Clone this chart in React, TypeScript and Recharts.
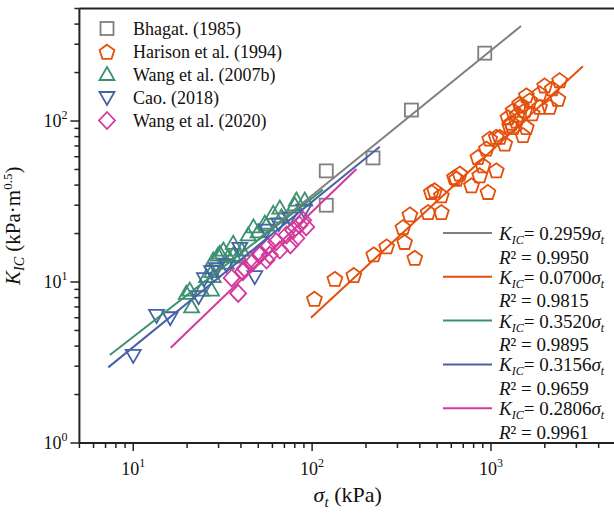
import { ScatterChart, Scatter, XAxis, YAxis, ReferenceLine, Label } from 'recharts'

const FONT = 'Liberation Serif, Times New Roman, serif'
const AXIS = '#222'

// tick values (log axes)
const xTicks = [5, 6, 7, 8, 9, 10, 20, 30, 40, 50, 60, 70, 80, 90, 100, 200, 300, 400, 500, 600, 700, 800, 900, 1000, 2000, 3000, 4000, 5000]
const xMajor = [10, 100, 1000]
const yTicks = [1, 2, 3, 4, 5, 6, 7, 8, 9, 10, 20, 30, 40, 50, 60, 70, 80, 90, 100, 200, 300, 400, 500]
const yMajor = [1, 10, 100]

// measured data, [sigma_t (kPa), K_IC (kPa·m^0.5)]
const bhagat = [[120, 30], [120, 49], [219, 59], [359, 117], [923, 264]]

const harison = [
  [103, 7.9], [134, 10.5], [171, 11.1], [221, 14.9], [261, 16.7], [322, 22], [352, 26.4], [329, 17.8],
  [375, 14.2], [445, 27.3], [528, 27.3], [484, 37.3], [528, 34.7], [464, 36.4], [625, 45], [641, 44],
  [669, 47.3], [778, 40], [865, 46.2], [962, 36.4], [1071, 49.6], [845, 60], [942, 67.7], [902, 53.3],
  [1071, 80], [1194, 72.7], [1272, 94.4], [984, 78], [1120, 80], [1387, 101], [1328, 117], [1447, 129],
  [1577, 145], [1545, 117], [1645, 135], [1871, 149], [1996, 167], [2128, 123], [2368, 138], [2420, 180],
  [1577, 92], [1328, 92], [1510, 82], [1245, 106], [1871, 123], [1400, 110], [1700, 112], [2200, 160],
  [1300, 98], [1480, 125],
]

const wang2007 = [
  [19.8, 8.5], [21.2, 7.0], [20.7, 8.9], [24.1, 8.9], [25.7, 10.8], [27.4, 8.9], [28, 10.8], [27.5, 11.6],
  [28, 13.7], [29.8, 14.7], [30.5, 15.1], [31.9, 15.8], [33.2, 13.1], [34, 14.4], [36.2, 17.4], [36.2, 14.7],
  [39.4, 14.3], [40.4, 15.8], [43.9, 19.6], [47, 22], [49.9, 20.5], [54.4, 23.2], [55.6, 22.6], [60.6, 26.7],
  [66, 28.8], [67.4, 25.4], [80, 30.1], [81.6, 32.3], [91, 32.3],
]

const cao = [
  [10, 3.5], [13.5, 6.2], [16.1, 6.0], [23.2, 8.1], [25, 10.5], [27.4, 11.6], [29.2, 12.1], [33.2, 12.8],
  [39.4, 16.2], [47.8, 10.8], [55.6, 21], [65, 23], [75, 25], [90, 28],
]

const wang2020 = [
  [38.6, 8.5], [35.5, 10.6], [41, 11.6], [42, 12.1], [44.9, 13.7], [45.9, 13.1], [51, 14.7], [51, 15.1],
  [55.6, 13.7], [56.7, 16.6], [58, 14.7], [63, 17.8], [66, 15.8], [72, 19.6], [75.6, 17], [78.3, 21],
  [81.6, 18.7], [85, 22.6], [89, 24.2], [92.7, 22],
]

// fitted lines, start and end points as drawn
const fitBhagat = [[50, 18.5], [1473, 389]]
const fitHarison = [[98.5, 6.0], [3266, 219]]
const fitWang2007 = [[7.4, 3.52], [115, 37.5]]
const fitCao = [[7.25, 2.95], [239, 69.3]]
const fitWang2020 = [[16.2, 3.91], [177, 50.3]]

const coefs = ['0.2959', '0.0700', '0.3520', '0.3156', '0.2806']
const r2s = ['0.9950', '0.9815', '0.9895', '0.9659', '0.9961']

const colors = {
  gray: '#7f7f7f',
  orange: '#e4500c',
  green: '#3d9070',
  blue: '#4862a8',
  magenta: '#d4389c',
}

const toPts = (arr: number[][]) => arr.map(([x, y]) => ({ x, y }))

// marker shapes
const Marker = ({ kind, cx, cy, color }: { kind: string; cx: number; cy: number; color: string }) => {
  const sw = 1.8
  if (kind === 'square') {
    return <rect x={cx - 6.5} y={cy - 6.5} width={13} height={13} fill="none" stroke={color} strokeWidth={sw} />
  }
  if (kind === 'pentagon') {
    const r = 7.8
    const pts = [0, 1, 2, 3, 4]
      .map(i => {
        const a = ((-90 + 72 * i) * Math.PI) / 180
        return `${cx + r * Math.cos(a)},${cy + 1 + r * Math.sin(a)}`
      })
      .join(' ')
    return <polygon points={pts} fill="none" stroke={color} strokeWidth={sw} />
  }
  if (kind === 'up') {
    return <polygon points={`${cx},${cy - 7.5} ${cx + 7.5},${cy + 5.5} ${cx - 7.5},${cy + 5.5}`} fill="none" stroke={color} strokeWidth={sw} />
  }
  if (kind === 'down') {
    return <polygon points={`${cx},${cy + 7.5} ${cx + 7.5},${cy - 5.5} ${cx - 7.5},${cy - 5.5}`} fill="none" stroke={color} strokeWidth={sw} />
  }
  return <polygon points={`${cx},${cy - 8.5} ${cx + 8},${cy} ${cx},${cy + 8.5} ${cx - 8},${cy}`} fill="none" stroke={color} strokeWidth={sw} />
}

const series = [
  { name: 'Bhagat. (1985)', data: bhagat, fit: fitBhagat, color: colors.gray, kind: 'square' },
  { name: 'Harison et al. (1994)', data: harison, fit: fitHarison, color: colors.orange, kind: 'pentagon' },
  { name: 'Wang et al. (2007b)', data: wang2007, fit: fitWang2007, color: colors.green, kind: 'up' },
  { name: 'Cao. (2018)', data: cao, fit: fitCao, color: colors.blue, kind: 'down' },
  { name: 'Wang et al. (2020)', data: wang2020, fit: fitWang2020, color: colors.magenta, kind: 'diamond' },
]

const textStyle = { fontFamily: FONT }

const XTick = (props: any) => {
  const { x, y, payload } = props
  const v = payload.value
  const major = xMajor.includes(v)
  return (
    <g>
      <line x1={x} x2={x} y1={y} y2={y + (major ? 8 : 5)} stroke={AXIS} strokeWidth={1.5} />
      {major && (
        <text x={x} y={y + 32} textAnchor="middle" style={textStyle} fontSize={18} fill="#111">
          10<tspan fontSize={12} dy={-8}>{Math.round(Math.log10(v))}</tspan>
        </text>
      )}
    </g>
  )
}

const YTick = (props: any) => {
  const { x, y, payload } = props
  const v = payload.value
  const major = yMajor.includes(v)
  return (
    <g>
      <line x1={x - (major ? 9 : 5)} x2={x} y1={y} y2={y} stroke={AXIS} strokeWidth={1.5} />
      {major && (
        <text x={x - 12} y={y + 6} textAnchor="end" style={textStyle} fontSize={18} fill="#111">
          10<tspan fontSize={12} dy={-8}>{Math.round(Math.log10(v))}</tspan>
        </text>
      )}
    </g>
  )
}

const XLabel = (props: any) => {
  const { x, y, width } = props.viewBox
  return (
    <text x={x + width / 2} y={y + 59} textAnchor="middle" style={textStyle} fontSize={22} fill="#111">
      <tspan fontStyle="italic">σ</tspan>
      <tspan fontStyle="italic" fontSize={15} dy={5}>t</tspan>
      <tspan dy={-5}> (kPa)</tspan>
    </text>
  )
}

const YLabel = (props: any) => {
  const { x, y, height } = props.viewBox
  return (
    <text
      transform={`translate(${x + 20},${y + height / 2}) rotate(-90)`}
      textAnchor="middle"
      style={textStyle}
      fontSize={21}
      fill="#111"
    >
      <tspan fontStyle="italic">K</tspan>
      <tspan fontStyle="italic" fontSize={14} dy={4}>IC</tspan>
      <tspan dy={-4}> (kPa·m</tspan>
      <tspan fontSize={13} dy={-8}>0.5</tspan>
      <tspan dy={8}>)</tspan>
    </text>
  )
}

const Legends = () => (
  <svg width={614} height={513} style={{ position: 'absolute', left: 0, top: 0, pointerEvents: 'none' }}>
    {series.map((s, i) => (
      <g key={s.name}>
        <Marker kind={s.kind} cx={107} cy={28.5 + i * 23} color={s.color} />
        <text x={133} y={34.5 + i * 23} style={textStyle} fontSize={18} fill="#111">
          {s.name}
        </text>
      </g>
    ))}
    {series.map((s, i) => {
      const y = 233 + i * 43.8
      return (
        <g key={'fit' + i}>
          <line x1={443} x2={492} y1={y} y2={y} stroke={s.color} strokeWidth={2} />
          <text x={499} y={y + 7} style={textStyle} fontSize={19} fill="#111">
            <tspan fontStyle="italic">K</tspan>
            <tspan fontStyle="italic" fontSize={12} dy={4}>IC</tspan>
            <tspan dy={-4}>{'= ' + coefs[i]}</tspan>
            <tspan fontStyle="italic">σ</tspan>
            <tspan fontStyle="italic" fontSize={12} dy={4}>t</tspan>
          </text>
          <text x={499} y={y + 30.5} style={textStyle} fontSize={19} fill="#111">
            <tspan fontStyle="italic">R</tspan>
            <tspan>{'² = ' + r2s[i]}</tspan>
          </text>
        </g>
      )
    })}
  </svg>
)

export default function App() {
  return (
    <div style={{ position: 'relative', width: 614, height: 513, overflow: 'hidden', background: '#fff', fontFamily: FONT }}>
      <style>{'body{margin:0}'}</style>
      <ScatterChart width={620} height={513} margin={{ top: 8.5, right: 4, bottom: 0, left: 0 }}>
        <XAxis
          type="number"
          dataKey="x"
          scale="log"
          domain={[5, 5000]}
          allowDataOverflow
          ticks={xTicks}
          interval={0}
          tickSize={0}
          tickMargin={0}
          tickLine={false}
          tick={<XTick />}
          axisLine={{ stroke: AXIS, strokeWidth: 2 }}
          height={70}
        >
          <Label content={XLabel} />
        </XAxis>
        <YAxis
          type="number"
          dataKey="y"
          scale="log"
          domain={[1, 500]}
          allowDataOverflow
          ticks={yTicks}
          interval={0}
          tickSize={0}
          tickMargin={0}
          tickLine={false}
          tick={<YTick />}
          axisLine={{ stroke: AXIS, strokeWidth: 2 }}
          width={79.4}
        >
          <Label content={YLabel} />
        </YAxis>
        <ReferenceLine y={500} stroke={AXIS} strokeWidth={2} />
        {series.map(s => (
          <Scatter
            key={s.name}
            name={s.name}
            data={toPts(s.data)}
            isAnimationActive={false}
            shape={(p: any) => <Marker kind={s.kind} cx={p.cx} cy={p.cy} color={s.color} />}
          />
        ))}
        {series.map(s => (
          <Scatter
            key={'fit-' + s.name}
            data={toPts(s.fit)}
            isAnimationActive={false}
            line={{ stroke: s.color, strokeWidth: 2 }}
            shape={() => <g />}
          />
        ))}
      </ScatterChart>
      <Legends />
    </div>
  )
}
